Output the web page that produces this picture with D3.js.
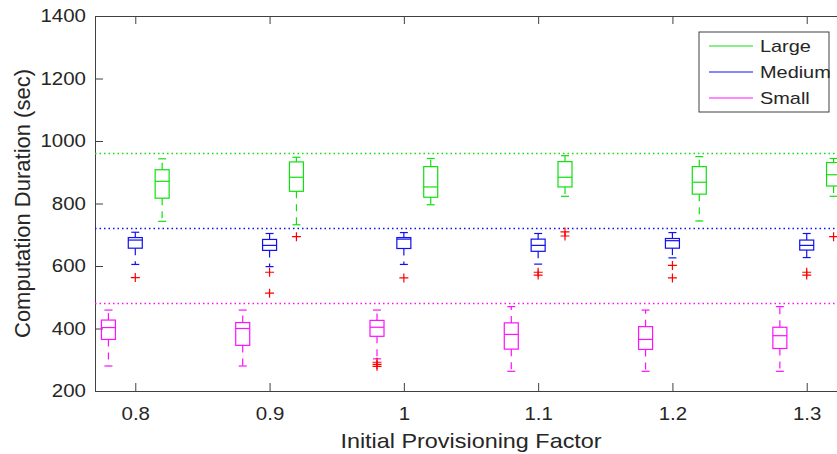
<!DOCTYPE html>
<html>
<head>
<meta charset="utf-8">
<script src="https://cdn.jsdelivr.net/npm/d3@7"></script>
<style>
    body { margin: 0; background: #fff; }
    svg { display: block; }
    text { font-family: "Liberation Sans", Arial, Helvetica, sans-serif; fill: #262626; }
</style>
</head>
<body>
<div id="chart"></div>
<script>
// provisioning factors on the x axis
const factors = [0.8, 0.9, 1.0, 1.1, 1.2, 1.3];
const xTickLabels = ['0.8', '0.9', '1', '1.1', '1.2', '1.3'];
const yTicks = [200, 400, 600, 800, 1000, 1200, 1400];

const seriesNames = ['Large', 'Medium', 'Small'];
// horizontal dotted reference line per series
const refLines = [960, 720, 480];
// x offset of each series' box from the factor
const seriesOffsets = [0.02, 0, -0.02];

// box stats (sec)
const largeHigh   = [943, 948, 944, 953, 950, 944];
const largeQ3     = [908, 933, 918, 934, 918, 931];
const largeMedian = [871, 884, 853, 884, 868, 892];
const largeQ1     = [817, 839, 820, 853, 830, 856];
const largeLow    = [743, 732, 796, 823, 744, 823];
const largeOut    = [[], [694], [], [709, 696], [], [694]];

const mediumHigh   = [708, 704, 707, 704, 707, 704];
const mediumQ3     = [691, 685, 691, 686, 688, 683];
const mediumMedian = [683, 666, 686, 666, 681, 666];
const mediumQ1     = [657, 650, 656, 647, 657, 651];
const mediumLow    = [605, 598, 605, 606, 626, 627];
const mediumOut    = [[563], [580, 513], [562], [580, 571], [602, 562], [580, 571]];

const smallHigh   = [459, 459, 459, 470, 459, 470];
const smallQ3     = [427, 419, 426, 418, 406, 404];
const smallMedian = [403, 400, 404, 381, 365, 377];
const smallQ1     = [365, 346, 375, 334, 333, 336];
const smallLow    = [280, 280, 303, 263, 263, 263];
const smallOut    = [[], [], [292, 285, 279], [], [], []];

const colors = ['#10e010', '#1010f0', '#ff10ff'];

// build one row per box
const statSets = [
    [largeHigh, largeQ3, largeMedian, largeQ1, largeLow, largeOut],
    [mediumHigh, mediumQ3, mediumMedian, mediumQ1, mediumLow, mediumOut],
    [smallHigh, smallQ3, smallMedian, smallQ1, smallLow, smallOut]
];
const boxes = [];
statSets.forEach((s, si) => {
    factors.forEach((f, i) => {
        boxes.push({
            series: si,
            x: f + seriesOffsets[si],
            high: s[0][i], q3: s[1][i], median: s[2][i], q1: s[3][i], low: s[4][i],
            outliers: s[5][i]
        });
    });
});
const outlierPts = boxes.flatMap(b => b.outliers.map(v => ({x: b.x, y: v})));
const refData = refLines.map((v, i) => ({value: v, color: colors[i]}));

const width = 837, height = 454;
const margin = {top: 16, left: 95};
const plotW = 752, plotH = 375;   // right edge falls outside the picture
const stretch = 1.17;             // text in the reference is drawn a bit wide

const svg = d3.select('#chart').append('svg')
    .attr('width', width)
    .attr('height', height);

const chart = svg.append('g')
    .attr('transform', `translate(${margin.left},${margin.top})`);

const xScale = d3.scaleLinear().domain([0.77, 1.33]).range([0, plotW]);
const yScale = d3.scaleLinear().domain([200, 1400]).range([plotH, 0]);

// axes (MATLAB style: ticks pointing inward)
const xAxis = d3.axisBottom(xScale)
    .tickValues(factors)
    .tickFormat((d, i) => xTickLabels[i])
    .tickSizeInner(-8).tickSizeOuter(0).tickPadding(17);
const yAxis = d3.axisLeft(yScale)
    .tickValues(yTicks)
    .tickFormat(d3.format('d'))
    .tickSizeInner(-8).tickSizeOuter(0).tickPadding(9);
const xAxisTop = d3.axisTop(xScale)
    .tickValues(factors).tickFormat('')
    .tickSizeInner(-8).tickSizeOuter(0);

const xAxisG = chart.append('g')
    .attr('transform', `translate(0,${plotH})`)
    .call(xAxis);
const yAxisG = chart.append('g').call(yAxis);
const topG = chart.append('g').call(xAxisTop);

[xAxisG, yAxisG, topG].forEach(g => {
    g.selectAll('path, line').attr('stroke', '#404040').attr('stroke-width', 1);
    g.selectAll('text').style('font-size', '17.5px').attr('fill', '#262626');
});
xAxisG.selectAll('text').attr('transform', `scale(${stretch},1)`);
yAxisG.selectAll('text')
    .attr('x', 0)
    .attr('transform', `translate(-9,0) scale(${stretch},1)`);

// dotted reference lines
chart.selectAll('.ref-line')
    .data(refData)
    .join('line')
    .attr('class', 'ref-line')
    .attr('x1', 0)
    .attr('x2', plotW)
    .attr('y1', d => yScale(d.value))
    .attr('y2', d => yScale(d.value))
    .style('stroke', d => d.color)
    .style('stroke-width', 1.5)
    .style('stroke-dasharray', '1.5,3');

const boxHalf = 7, capHalf = 4;

const boxG = chart.selectAll('.box')
    .data(boxes)
    .join('g')
    .attr('class', 'box')
    .attr('transform', d => `translate(${xScale(d.x)},0)`)
    .attr('stroke', d => colors[d.series])
    .attr('stroke-width', 1.2)
    .attr('fill', 'none');

// dashed whiskers
boxG.append('line')
    .attr('y1', d => yScale(d.q3)).attr('y2', d => yScale(d.high))
    .attr('stroke-dasharray', '7,6');
boxG.append('line')
    .attr('y1', d => yScale(d.q1)).attr('y2', d => yScale(d.low))
    .attr('stroke-dasharray', '7,6');
// whisker caps
boxG.append('line')
    .attr('x1', -capHalf).attr('x2', capHalf)
    .attr('y1', d => yScale(d.high)).attr('y2', d => yScale(d.high));
boxG.append('line')
    .attr('x1', -capHalf).attr('x2', capHalf)
    .attr('y1', d => yScale(d.low)).attr('y2', d => yScale(d.low));
// box and median
boxG.append('rect')
    .attr('x', -boxHalf).attr('width', boxHalf * 2)
    .attr('y', d => yScale(d.q3))
    .attr('height', d => yScale(d.q1) - yScale(d.q3));
boxG.append('line')
    .attr('x1', -boxHalf).attr('x2', boxHalf)
    .attr('y1', d => yScale(d.median)).attr('y2', d => yScale(d.median));

// red + outliers
chart.selectAll('.outlier')
    .data(outlierPts)
    .join('path')
    .attr('class', 'outlier')
    .attr('transform', d => `translate(${xScale(d.x)},${yScale(d.y)})`)
    .attr('d', 'M-4.5,0H4.5M0,-4.5V4.5')
    .attr('stroke', '#ff0000')
    .attr('stroke-width', 1.2)
    .attr('fill', 'none');

// axis titles
svg.append('text')
    .attr('transform', `translate(${margin.left + plotW / 2},448) scale(${stretch},1)`)
    .attr('text-anchor', 'middle')
    .style('font-size', '20px')
    .text('Initial Provisioning Factor');

svg.append('text')
    .attr('transform', `translate(30,${margin.top + plotH / 2}) rotate(-90)`)
    .attr('text-anchor', 'middle')
    .style('font-size', '22px')
    .text('Computation Duration (sec)');

// legend
const legend = svg.append('g').attr('transform', 'translate(699,32)');
legend.append('rect')
    .attr('width', 130).attr('height', 80)
    .attr('fill', '#fff').attr('stroke', '#404040').attr('stroke-width', 1);
const items = legend.selectAll('.item')
    .data(seriesNames)
    .join('g')
    .attr('class', 'item')
    .attr('transform', (d, i) => `translate(0,${14 + i * 26})`);
items.append('line')
    .attr('x1', 10).attr('x2', 54)
    .attr('stroke', (d, i) => colors[i])
    .attr('stroke-width', 1.2);
items.append('text')
    .attr('transform', `translate(61,6) scale(${stretch},1)`)
    .style('font-size', '17px')
    .text(d => d);
</script>
</body>
</html>
